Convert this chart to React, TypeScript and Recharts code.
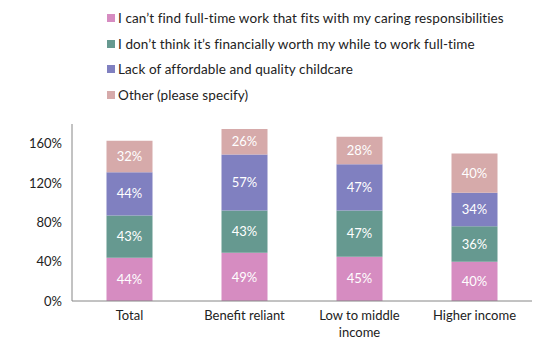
import { BarChart, Bar, XAxis, YAxis, LabelList, Text } from 'recharts'

const categories = ['Total', 'Benefit reliant', 'Low to middle income', 'Higher income']

const cantFindWork = [44, 49, 45, 40]
const notWorthIt = [43, 43, 47, 36]
const noChildcare = [44, 57, 47, 34]
const other = [32, 26, 28, 40]

const yTicks = [0, 40, 80, 120, 160]

const SERIES = [
  { key: 'cantFindWork', name: 'I can\u2019t find full-time work that fits with my caring responsibilities', color: '#D68CC1' },
  { key: 'notWorthIt', name: 'I don\u2019t think it\u2019s financially worth my while to work full-time', color: '#669990' },
  { key: 'noChildcare', name: 'Lack of affordable and quality childcare', color: '#8080C0' },
  { key: 'other', name: 'Other (please specify)', color: '#D6AAAA' },
]

const FONT = 'Lato, "Open Sans", sans-serif'

const data = categories.map((name, i) => ({
  name,
  cantFindWork: cantFindWork[i],
  notWorthIt: notWorthIt[i],
  noChildcare: noChildcare[i],
  other: other[i],
}))

// wraps long category names the way the original chart does
function CategoryTick(props: any) {
  const { x, y, payload } = props
  return (
    <Text
      x={x}
      y={y}
      width={100}
      textAnchor="middle"
      verticalAnchor="start"
      fontSize={13}
      fontFamily={FONT}
      fill="#222"
      lineHeight={17}
    >
      {payload.value}
    </Text>
  )
}

function LegendBox() {
  return (
    <div style={{ position: 'absolute', top: 5, left: 107, fontFamily: FONT, fontSize: 13.5, color: '#222' }}>
      {SERIES.map((s) => (
        <div key={s.key} style={{ display: 'flex', alignItems: 'center', height: 25.7, whiteSpace: 'nowrap' }}>
          <span style={{ width: 8, height: 8, background: s.color, marginRight: 3, display: 'inline-block' }} />
          <span style={{ letterSpacing: 0.1 }}>{s.name}</span>
        </div>
      ))}
    </div>
  )
}

export default function App() {
  return (
    <div style={{ position: 'absolute', left: 0, top: 0, width: 548, height: 350, background: '#fff' }}>
      <BarChart
        width={548}
        height={350}
        data={data}
        margin={{ top: 124, right: 16, bottom: 0, left: 0 }}
        barCategoryGap="30%"
      >
        <YAxis
          width={72}
          domain={[0, 180]}
          ticks={yTicks}
          tickFormatter={(v) => `${v}%`}
          tickLine={false}
          tickSize={0}
          tickMargin={10}
          axisLine={{ stroke: '#868686' }}
          tick={{ fontSize: 13, fontFamily: FONT, fill: '#222' }}
          allowDataOverflow
        />
        <XAxis
          dataKey="name"
          height={49}
          tickLine={false}
          tickSize={0}
          tickMargin={10}
          axisLine={{ stroke: '#868686' }}
          tick={<CategoryTick />}
          interval={0}
        />
        {SERIES.map((s) => (
          <Bar key={s.key} dataKey={s.key} name={s.name} stackId="a" fill={s.color} isAnimationActive={false}>
            <LabelList
              dataKey={s.key}
              position="center"
              formatter={(v: any) => `${v}%`}
              fill="#fff"
              fontSize={13}
              fontFamily={FONT}
            />
          </Bar>
        ))}
      </BarChart>
      <LegendBox />
    </div>
  )
}
